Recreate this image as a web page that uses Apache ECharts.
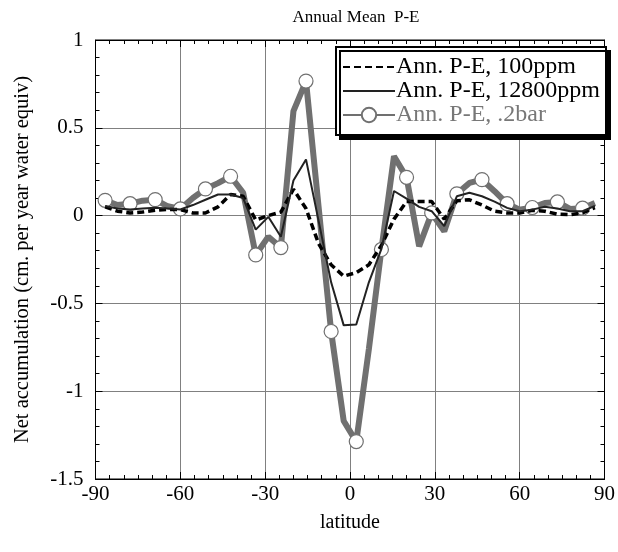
<!DOCTYPE html>
<html><head><meta charset="utf-8">
<script src="https://cdn.jsdelivr.net/npm/echarts@6/dist/echarts.min.js"></script>
<style>html,body{margin:0;padding:0;background:#fff}#c{width:618px;height:552px}</style>
</head><body><div id="c"></div>
<script>
// Gaussian latitudes (40-point grid)
const latitudes = [-86.60,-82.23,-77.78,-73.34,-68.89,-64.45,-60.00,-55.56,-51.12,-46.67,-42.23,-37.78,-33.34,-28.89,-24.45,-20.00,-15.56,-11.11,-6.67,-2.22,
  2.22,6.67,11.11,15.56,20.00,24.45,28.89,33.34,37.78,42.23,46.67,51.12,55.56,60.00,64.45,68.89,73.34,77.78,82.23,86.60];
const pe100ppm = [0.05,0.025,0.015,0.02,0.03,0.035,0.034,0.015,0.015,0.05,0.12,0.11,-0.025,0.0,0.02,0.15,0.04,-0.16,-0.28,-0.345,
  -0.325,-0.28,-0.17,-0.02,0.08,0.08,0.08,-0.02,0.085,0.09,0.06,0.025,0.015,0.015,0.03,0.025,0.008,0.005,0.015,0.045];
const pe12800ppm = [0.055,0.04,0.035,0.04,0.045,0.04,0.035,0.06,0.09,0.12,0.12,0.1,-0.08,-0.007,-0.12,0.2,0.32,-0.03,-0.38,-0.625,
  -0.62,-0.38,-0.19,0.14,0.097,0.05,0.025,-0.06,0.11,0.13,0.11,0.08,0.044,0.025,0.034,0.05,0.04,0.025,0.025,0.055];
const pe02bar = [0.087,0.06,0.068,0.085,0.091,0.053,0.038,0.10,0.152,0.185,0.224,0.13,-0.224,-0.12,-0.182,0.595,0.766,0.05,-0.66,-1.17,
  -1.287,-0.76,-0.193,0.338,0.218,-0.175,0.015,-0.09,0.124,0.186,0.205,0.139,0.068,0.034,0.046,0.072,0.078,0.038,0.042,0.072];
const xTicks = [-90,-60,-30,0,30,60,90];
const yTicks = [-1.5,-1,-0.5,0,0.5,1];
const seriesNames = ['Ann. P-E, 100ppm','Ann. P-E, 12800ppm','Ann. P-E, .2bar'];

const pair = arr => latitudes.map((la,i)=>[la,arr[i]]);
const grayData = latitudes.map((la,i)=> i%2===0 ? {value:[la,pe02bar[i]]} : {value:[la,pe02bar[i]], symbol:'none'});

const font = '"Liberation Serif","DejaVu Serif",serif';
const chart = echarts.init(document.getElementById('c'), null, {renderer:'canvas'});
const axisCommon = {
  axisLine:{show:true, onZero:false, lineStyle:{color:'#000', width:1}},
  axisTick:{show:true, inside:true, length:7, lineStyle:{color:'#000'}},
};
const hidden = {color:'rgba(0,0,0,0)', borderWidth:0, borderColor:'rgba(0,0,0,0)'};
chart.setOption({
  animation:false,
  backgroundColor:'#fff',
  title:{text:'Annual Mean  P-E', left:351, textAlign:'center', top:4,
    textStyle:{fontFamily:font, fontSize:17, fontWeight:'normal', color:'#000'}},
  grid:{left:95.5, right:12, top:40, bottom:73, show:true, borderColor:'#000', borderWidth:1},
  legend:{
    orient:'vertical', left:336, top:47, padding:[8,6,8,6], itemGap:0,
    itemWidth:52, itemHeight:18,
    backgroundColor:'#fff', borderColor:'#000', borderWidth:2,
    shadowColor:'#000', shadowBlur:0, shadowOffsetX:4, shadowOffsetY:4,
    textStyle:{fontFamily:font, fontSize:24, lineHeight:24, color:'#000', padding:[0,0,0,-4]},
    data:[{name:seriesNames[0], itemStyle:hidden},{name:seriesNames[1], itemStyle:hidden},
      {name:seriesNames[2], textStyle:{color:'#777'}}]
  },
  xAxis:[
    Object.assign({}, axisCommon, {type:'value', min:-90, max:90, interval:30, position:'bottom',
      minorTick:{show:true, splitNumber:6, length:4, lineStyle:{color:'#000'}},
      splitLine:{show:true, lineStyle:{color:'#808080', width:1}},
      axisLabel:{fontFamily:font, fontSize:21, color:'#000', margin:5,
        formatter:v=> xTicks.includes(v) ? String(v) : ''},
      name:'latitude', nameLocation:'middle', nameGap:34,
      nameTextStyle:{fontFamily:font, fontSize:20, color:'#000'}}),
    Object.assign({}, axisCommon, {type:'value', min:-90, max:90, interval:30, position:'top',
      minorTick:{show:true, splitNumber:6, length:4, lineStyle:{color:'#000'}},
      splitLine:{show:false}, axisLabel:{show:false}})
  ],
  yAxis:[
    Object.assign({}, axisCommon, {type:'value', min:-1.5, max:1, interval:0.5, position:'left',
      minorTick:{show:true, splitNumber:5, length:4, lineStyle:{color:'#000'}},
      splitLine:{show:true, lineStyle:{color:'#808080', width:1}},
      axisLabel:{fontFamily:font, fontSize:21, color:'#000', margin:12,
        formatter:v=> yTicks.includes(v) ? String(v) : ''},
      name:'Net accumulation (cm. per year water equiv)', nameLocation:'middle', nameGap:62,
      nameTextStyle:{fontFamily:font, fontSize:20.5, color:'#000'}}),
    Object.assign({}, axisCommon, {type:'value', min:-1.5, max:1, interval:0.5, position:'right',
      minorTick:{show:true, splitNumber:5, length:4, lineStyle:{color:'#000'}},
      splitLine:{show:false}, axisLabel:{show:false}})
  ],
  series:[
    {name:seriesNames[0], type:'line', data:pair(pe100ppm), symbol:'none', z:3,
      lineStyle:{color:'#000', width:3.5, type:[7,4]}, itemStyle:{color:'#000'}},
    {name:seriesNames[1], type:'line', data:pair(pe12800ppm), symbol:'none', z:4,
      lineStyle:{color:'#222', width:2}, itemStyle:{color:'#222'}},
    {name:seriesNames[2], type:'line', data:grayData, symbol:'circle', symbolSize:14, showAllSymbol:true, z:2,
      lineStyle:{color:'#707070', width:6},
      itemStyle:{color:'#fff', borderColor:'#707070', borderWidth:1.2}}
  ]
});
</script></body></html>
